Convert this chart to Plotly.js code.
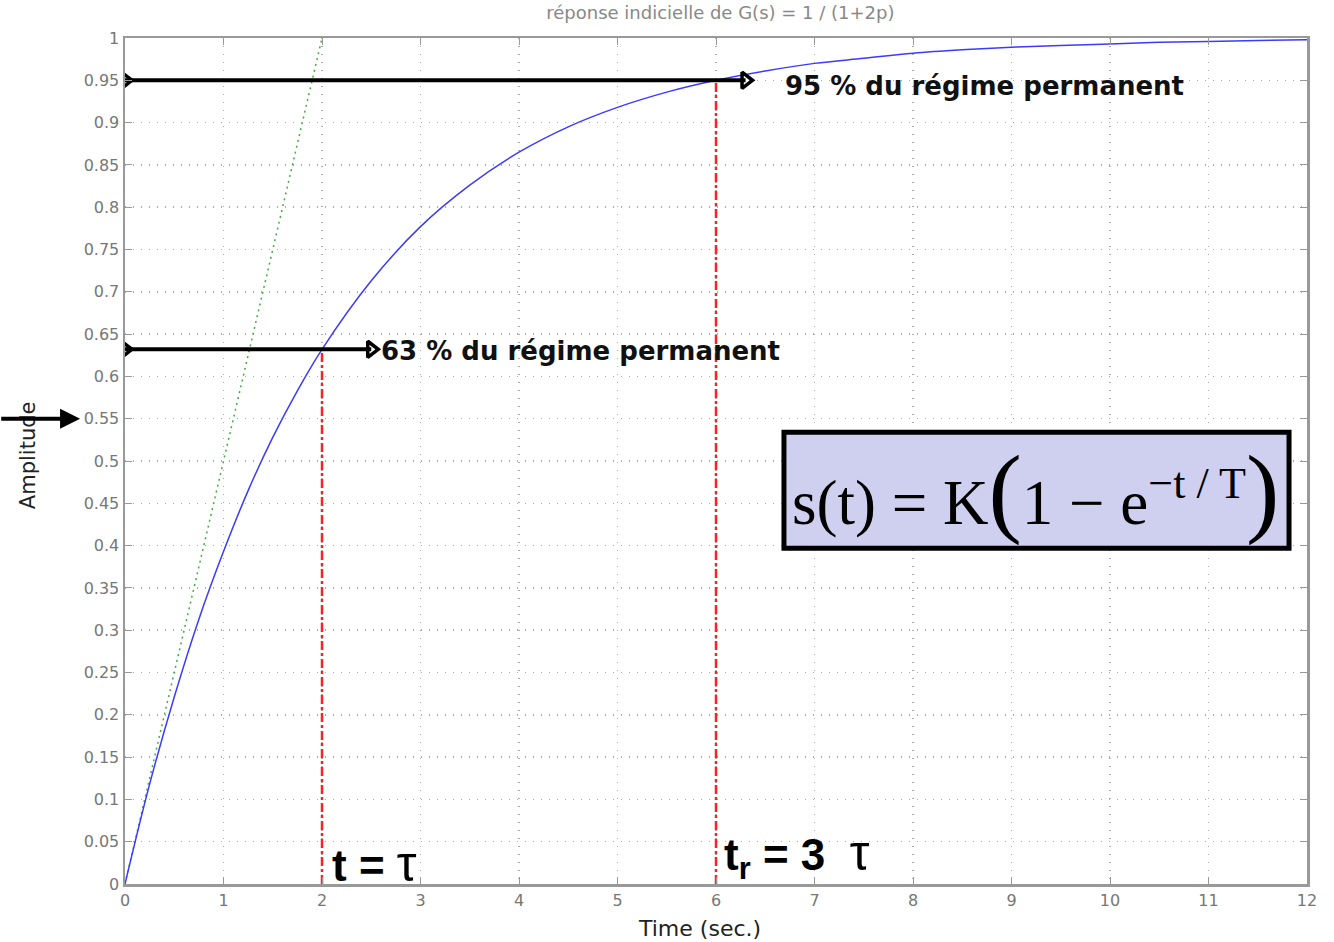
<!DOCTYPE html>
<html><head><meta charset="utf-8">
<script src="https://cdn.plot.ly/plotly-3.0.1.min.js"></script>
<style>body{margin:0;background:#fff}#c{width:1334px;height:942px}</style>
</head><body><div id="c"></div>
<script>
// Step response
const timeVals = [0,0.25,0.5,0.75,1,1.25,1.5,1.75,2,2.5,3,3.5,4,4.5,5,5.5,6,6.5,7,7.5,8,8.5,9,9.5,10,10.5,11,11.5,12];
const ampVals  = [0,0.118,0.221,0.313,0.393,0.465,0.528,0.583,0.632,0.713,0.777,0.826,0.865,0.895,0.918,0.936,0.950,0.961,0.970,0.976,0.982,0.986,0.989,0.991,0.993,0.995,0.996,0.997,0.998];
const tangentX = [0,2];
const tangentY = [0,1];
const tau = 2, tr = 6;
const level63 = 0.632, level95 = 0.95;
const arrow63End = 2.5, arrow95End = 6.3;
const xTicks = [0,1,2,3,4,5,6,7,8,9,10,11,12];
const yTicks = [0,0.05,0.1,0.15,0.2,0.25,0.3,0.35,0.4,0.45,0.5,0.55,0.6,0.65,0.7,0.75,0.8,0.85,0.9,0.95,1];
const yTickText = yTicks.map(v => v===0?'0':(v===1?'1':String(+v.toFixed(2))));

const traces = [
  {x:tangentX,y:tangentY,mode:'lines',line:{color:'#44aa44',width:1.5,dash:'2px,4px'},hoverinfo:'skip'},
  {x:timeVals,y:ampVals,mode:'lines',line:{color:'#3b3bff',width:1.5,shape:'spline'}},
  {x:[tau,tau],y:[0,level63],mode:'lines',line:{color:'#ff2020',width:2.5,dash:'dashdot'}},
  {x:[tr,tr],y:[0,level95],mode:'lines',line:{color:'#ff2020',width:2.5,dash:'dashdot'}},
  {x:[0,arrow95End],y:[level95,level95],mode:'lines+markers',line:{color:'#000',width:4},
   marker:{symbol:'triangle-right-open',size:14,color:'#000',line:{width:3.5,color:'#000'}}},
  {x:[0,arrow63End],y:[level63,level63],mode:'lines+markers',line:{color:'#000',width:4},
   marker:{symbol:'triangle-right-open',size:14,color:'#000',line:{width:3.5,color:'#000'}}}
];

const gridFont = {family:'DejaVu Sans, sans-serif',size:16,color:'#777'};
const axisCommon = {showgrid:true,gridcolor:'#aaa',griddash:'1px,7px',gridwidth:1.5,
    zeroline:false,showline:true,linecolor:'#999',linewidth:2.5,mirror:'ticks',ticks:'inside',ticklen:7,tickcolor:'#999',
    tickfont:gridFont};
const layout = {
  width:1334,height:942,
  margin:{l:125,r:27,t:38,b:58},
  showlegend:false,
  paper_bgcolor:'#fff',plot_bgcolor:'#fff',
  title:{text:'réponse indicielle de G(s) = 1 / (1+2p)',font:{family:'DejaVu Sans, sans-serif',size:18,color:'#888'},x:0.54,xanchor:'center',y:0.993,yanchor:'top'},
  xaxis:Object.assign({range:[0,12],tickvals:xTicks,ticktext:xTicks.map(String)},axisCommon),
  yaxis:Object.assign({range:[0,1],tickvals:yTicks,ticktext:yTickText},axisCommon),
  shapes:[
    {type:'rect',xref:'paper',yref:'paper',x0:0.5575,x1:0.9848,y0:0.397,y1:0.534,fillcolor:'#cfd0ef',line:{color:'#000',width:5},layer:'above'}
  ],
  annotations:[
    {xref:'paper',yref:'paper',x:0.486,y:0,yshift:-44,text:'Time (sec.)',showarrow:false,xanchor:'center',yanchor:'middle',font:{family:'DejaVu Sans, sans-serif',size:22,color:'#222'}},
    {xref:'paper',yref:'paper',x:-0.082,y:0.507,text:'Amplitude',textangle:-90,showarrow:false,xanchor:'center',yanchor:'middle',font:{family:'DejaVu Sans, sans-serif',size:21,color:'#222'}},
    {xref:'x',yref:'y',x:6.68,y:0.943,text:'<b>95 % du régime permanent</b>',showarrow:false,xanchor:'left',yanchor:'middle',font:{family:'DejaVu Sans, sans-serif',size:26,color:'#111'}},
    {xref:'x',yref:'y',x:2.58,y:0.630,text:'<b>63 % du régime permanent</b>',showarrow:false,xanchor:'left',yanchor:'middle',font:{family:'DejaVu Sans, sans-serif',size:26,color:'#111'}},
    {xref:'x',yref:'y',x:2.08,y:0.024,text:'<b>t = </b><span style="font-size:50px">τ</span>',showarrow:false,xanchor:'left',yanchor:'middle',font:{family:'Liberation Sans, Arial, sans-serif',size:44,color:'#000'}},
    {xref:'x',yref:'y',x:6.06,y:0.034,text:'<b>t<sub>r</sub> = 3 </b> <span style="font-size:50px">τ</span>',showarrow:false,xanchor:'left',yanchor:'middle',font:{family:'Liberation Sans, Arial, sans-serif',size:44,color:'#000'}},
    {xref:'paper',yref:'paper',x:0.7705,y:0.4655,text:'s(t) = K<span style="font-size:100px">(</span>1 − e<sup>−t / T</sup><span style="font-size:100px">)</span>',showarrow:false,xanchor:'center',yanchor:'middle',font:{family:'Liberation Serif, Times New Roman, serif',size:63,color:'#000'}},
    {xref:'paper',yref:'paper',x:-0.038,y:0.55,ax:-0.106,ay:0.55,axref:'paper',ayref:'paper',text:'',showarrow:true,arrowhead:2,arrowsize:1,arrowwidth:4,arrowcolor:'#000'}
  ]
};
Plotly.newPlot('c',traces,layout,{displayModeBar:false,staticPlot:true});
</script></body></html>
